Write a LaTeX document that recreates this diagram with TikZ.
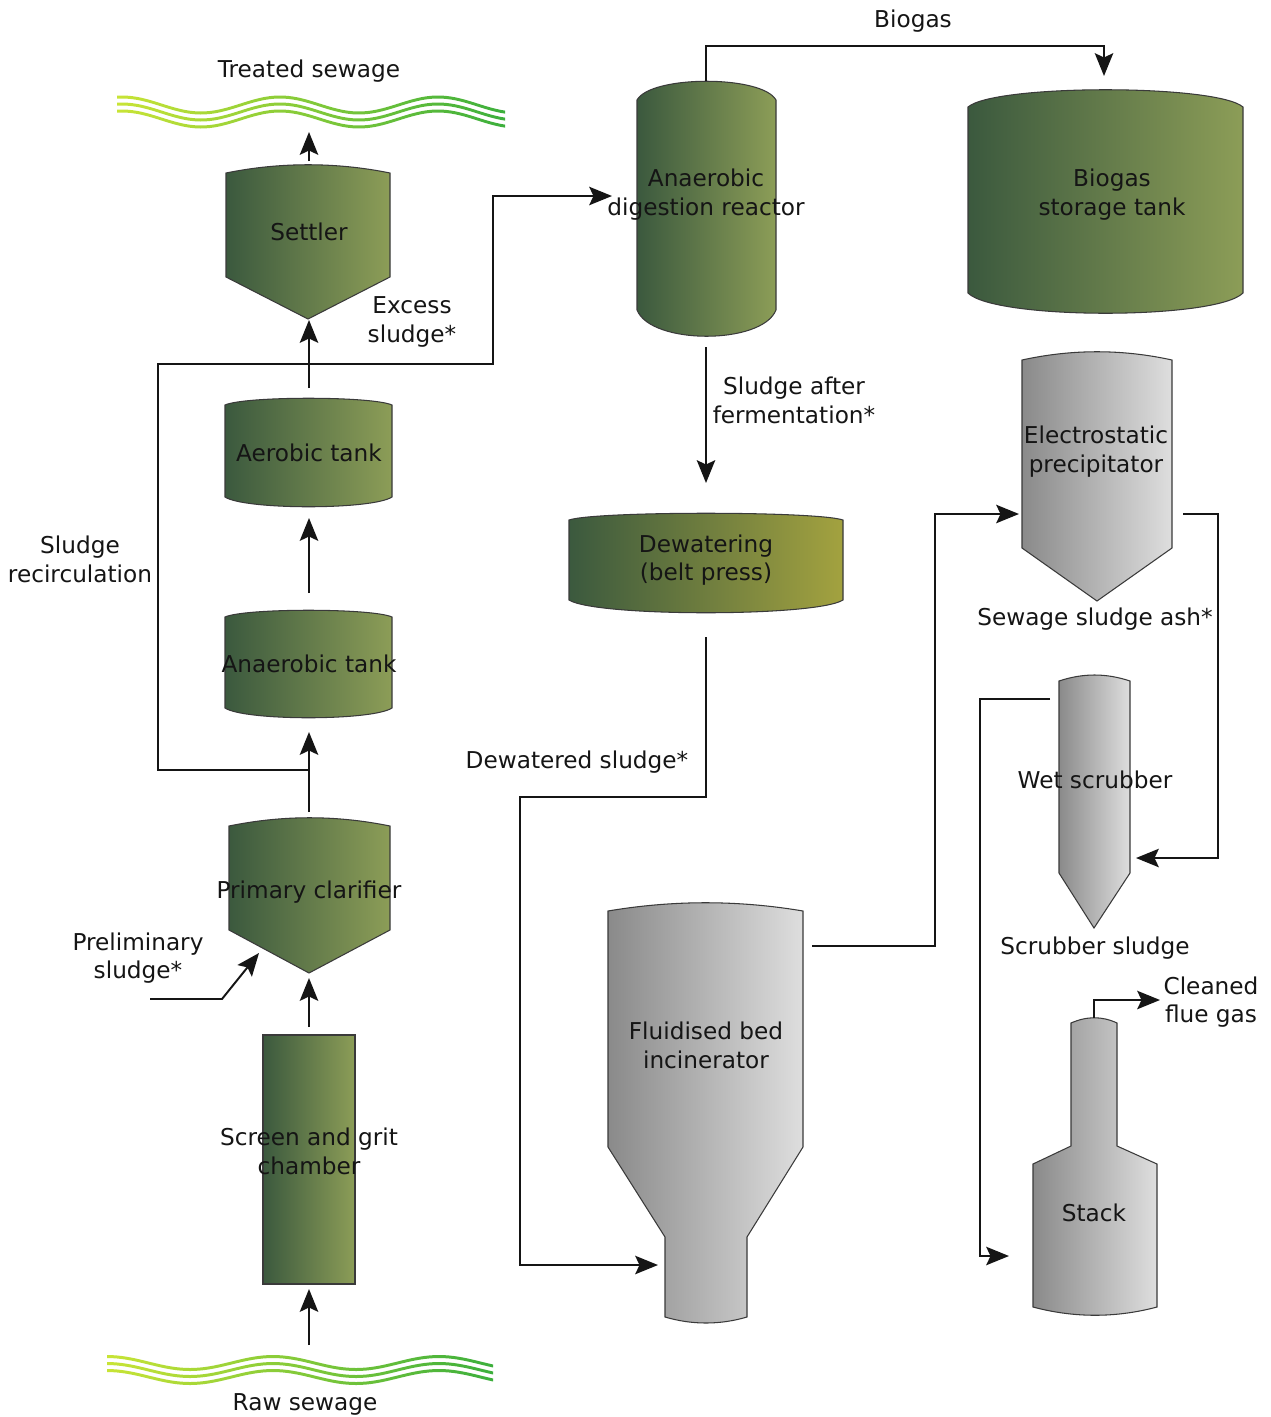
\documentclass[tikz,border=0pt]{standalone}
\usepackage{fontspec}
\setmainfont{DejaVu Sans}
\usetikzlibrary{arrows.meta}
\definecolor{gdark}{HTML}{3B593E}
\definecolor{glight}{HTML}{8C9D57}
\definecolor{ylight}{HTML}{A3A23F}
\definecolor{sdark}{HTML}{8A8A8A}
\definecolor{slight}{HTML}{DEDEDE}
\definecolor{wleft}{HTML}{C8E436}
\definecolor{wright}{HTML}{3CAF3C}
\definecolor{edge}{HTML}{3A3A3A}
\definecolor{ink}{HTML}{151515}

\begin{document}
\begin{tikzpicture}[x=0.02cm,y=-0.02cm,
  flow/.style={-{Stealth[length=13pt,width=10.5pt,inset=2.5pt]},line width=1.1pt,draw=ink},
  green body/.style={left color=gdark,right color=glight,draw=edge,line width=0.6pt},
  steel body/.style={left color=sdark,right color=slight,draw=edge,line width=0.6pt},
  txt/.style={font=\fontsize{13.2}{16.4}\selectfont,text=ink,align=center,inner sep=0pt},
  wave/.style={left color=wleft,right color=wright,draw=none}]
  \fill[white] (0,0) rectangle (1271,1417);
  \useasboundingbox (0,0) rectangle (1271,1417);

  % water
  \shade[wave] \foreach \o in {-7,0,7} {plot[domain=117:505,samples=80] (\x,{112+\o-1.5-8*cos(360/158*(\x-122))})
    -- plot[domain=505:117,samples=80] (\x,{112+\o+1.5-8*cos(360/158*(\x-122))}) -- cycle};
  \shade[wave] \foreach \o in {-7,0,7} {plot[domain=107:493,samples=80] (\x,{1370+\o-1.5-6.5*cos(360/166*(\x-107))})
    -- plot[domain=493:107,samples=80] (\x,{1370+\o+1.5-6.5*cos(360/166*(\x-107))}) -- cycle};

  % sewage line
  \path[green body] (226,173) .. controls (280,162) and (336,162) .. (390,173) -- (390,277) -- (308,319) -- (226,277) -- cycle;
  \path[green body] (225,405) .. controls (245,396) and (372,396) .. (392,405) -- (392,497) .. controls (372,510) and (245,510) .. (225,497) -- cycle;
  \path[green body] (225,617) .. controls (245,608) and (372,608) .. (392,617) -- (392,708) .. controls (372,721) and (245,721) .. (225,708) -- cycle;
  \path[green body] (229,826) .. controls (283,815) and (336,815) .. (390,826) -- (390,930) -- (309,973) -- (229,930) -- cycle;
  \path[green body] (263,1035) rectangle (355,1284);

  % sludge line
  \path[green body] (637,100) .. controls (651,75) and (762,75) .. (776,100) -- (776,310) .. controls (762,345) and (651,345) .. (637,310) -- cycle;
  \path[green body] (968,107) .. controls (995,84) and (1216,84) .. (1243,107) -- (1243,293) .. controls (1216,320) and (995,320) .. (968,293) -- cycle;
  \path[green body,right color=ylight] (569,520) .. controls (596,511) and (816,511) .. (843,520) -- (843,600) .. controls (816,617) and (596,617) .. (569,600) -- cycle;

  % incineration and flue gas
  \path[steel body] (608,911) .. controls (673,900) and (738,900) .. (803,911) -- (803,1147) -- (747,1237) -- (747,1317)
    .. controls (720,1325) and (692,1325) .. (665,1317) -- (665,1237) -- (608,1147) -- cycle;
  \path[steel body] (1022,360) .. controls (1072,349) and (1122,349) .. (1172,360) -- (1172,548) -- (1097,601) -- (1022,548) -- cycle;
  \path[steel body] (1059,681) .. controls (1083,673) and (1106,673) .. (1130,681) -- (1130,873) -- (1094,928) -- (1059,873) -- cycle;
  \path[steel body] (1071,1023) .. controls (1087,1016) and (1102,1016) .. (1117,1023) -- (1117,1146) -- (1157,1164) -- (1157,1307)
    .. controls (1116,1318) and (1074,1318) .. (1033,1307) -- (1033,1164) -- (1071,1146) -- cycle;

  \node[txt] (treated) at (309,71) {Treated sewage};
  \node[txt] (settler) at (309,232) {Settler};
  \node[txt] (excess) at (412,322) {Excess\\sludge*};
  \node[txt] (aerobic) at (309,453) {Aerobic tank};
  \node[txt] (recirc) at (80,559) {Sludge\\recirculation};
  \node[txt] (anaerobic) at (309,664) {Anaerobic tank};
  \node[txt] (clarifier) at (309,892) {Primary clarifier};
  \node[txt] (prelim) at (138,958) {Preliminary\\sludge*};
  \node[txt] (screen) at (309,1151) {Screen and grit\\chamber};
  \node[txt] (raw) at (305,1404) {Raw sewage};
  \node[txt] (biogas) at (913,21) {Biogas};
  \node[txt] (reactor) at (706,195) {Anaerobic\\digestion reactor};
  \node[txt] (gastank) at (1112,195) {Biogas\\storage tank};
  \node[txt] (fermented) at (794,400) {Sludge after\\fermentation*};
  \node[txt] (dewater) at (706,560) {Dewatering\\(belt press)};
  \node[txt] (dewatered) at (577,762) {Dewatered sludge*};
  \node[txt] (incinerator) at (706,1045) {Fluidised bed\\incinerator};
  \node[txt] (esp) at (1096,452) {Electrostatic\\precipitator};
  \node[txt] (ash) at (1095,619) {Sewage sludge ash*};
  \node[txt] (scrubber) at (1095,780) {Wet scrubber};
  \node[txt] (scrubsludge) at (1095,948) {Scrubber sludge};
  \node[txt] (stack) at (1094,1213) {Stack};
  \node[txt] (flue) at (1211,1002) {Cleaned\\flue gas};

  % ports
  \coordinate (settler-top) at (309,161);
  \coordinate (treated-in) at (309,132);
  \coordinate (settler-bot) at (309,320);
  \coordinate (aerobic-top) at (309,388);
  \coordinate (aerobic-bot) at (309,518);
  \coordinate (anaerobic-top) at (309,593);
  \coordinate (anaerobic-bot) at (309,732);
  \coordinate (clarifier-top) at (309,812);
  \coordinate (clarifier-bot) at (309,978);
  \coordinate (screen-top) at (309,1027);
  \coordinate (screen-bot) at (309,1289);
  \coordinate (raw-out) at (309,1345);
  \coordinate (recirc-join) at (309,770);
  \coordinate (recirc-top) at (158,364);
  \coordinate (excess-bend) at (493,364);
  \coordinate (reactor-in) at (612,196);
  \coordinate (prelim-start) at (150,999);
  \coordinate (prelim-bend) at (222,999);
  \coordinate (clarifier-side) at (259,953);
  \coordinate (reactor-top) at (706,81);
  \coordinate (gas-bend) at (1104,46);
  \coordinate (gastank-in) at (1104,76);
  \coordinate (reactor-bot) at (706,347);
  \coordinate (dewater-in) at (706,483);
  \coordinate (dewater-bot) at (706,637);
  \coordinate (dewatered-bend) at (520,797);
  \coordinate (incinerator-in) at (658,1265);
  \coordinate (incinerator-out) at (812,946);
  \coordinate (flue-a) at (935,514);
  \coordinate (esp-in) at (1019,514);
  \coordinate (esp-out) at (1183,514);
  \coordinate (flue-b) at (1218,858);
  \coordinate (scrubber-in) at (1136,858);
  \coordinate (scrubber-out) at (1050,699);
  \coordinate (flue-c) at (980,1256);
  \coordinate (stack-in) at (1009,1256);
  \coordinate (stack-top) at (1094,1018);
  \coordinate (flue-out) at (1160,1000);

  \draw[flow] (settler-top) -- (treated-in);
  \draw[flow] (aerobic-top) -- (settler-bot);
  \draw[flow] (anaerobic-top) -- (aerobic-bot);
  \draw[flow] (clarifier-top) -- (anaerobic-bot);
  \draw[flow] (screen-top) -- (clarifier-bot);
  \draw[flow] (raw-out) -- (screen-bot);
  \draw[flow] (recirc-join) -| (recirc-top) -- (excess-bend) |- (reactor-in);
  \draw[flow] (prelim-start) -- (prelim-bend) -- (clarifier-side);
  \draw[flow] (reactor-top) |- (gas-bend) -- (gastank-in);
  \draw[flow] (reactor-bot) -- (dewater-in);
  \draw[flow] (dewater-bot) |- (dewatered-bend) |- (incinerator-in);
  \draw[flow] (incinerator-out) -| (flue-a) -- (esp-in);
  \draw[flow] (esp-out) -| (flue-b) -- (scrubber-in);
  \draw[flow] (scrubber-out) -| (flue-c) -- (stack-in);
  \draw[flow] (stack-top) |- (flue-out);
\end{tikzpicture}
\end{document}
